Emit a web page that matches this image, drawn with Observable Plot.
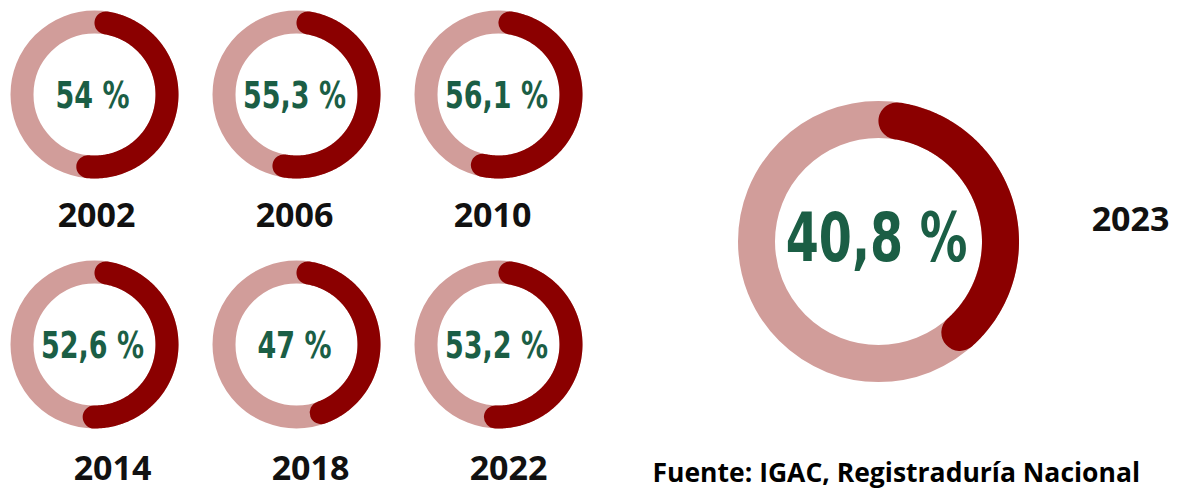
<!DOCTYPE html>
<html>
<head>
<meta charset="utf-8">
<script src="https://cdn.jsdelivr.net/npm/d3@7"></script>
<script src="https://cdn.jsdelivr.net/npm/@observablehq/plot@0.6"></script>
<style>
  html, body { margin: 0; padding: 0; background: #fff; }
  #chart { width: 1188px; height: 489px; }
</style>
</head>
<body>
<div id="chart"></div>
<script>
// ---- data ----
const years = ["2002", "2006", "2010", "2014", "2018", "2022"];
const values = [54, 55.3, 56.1, 52.6, 47, 53.2];
const valueLabels = ["54 %", "55,3 %", "56,1 %", "52,6 %", "47 %", "53,2 %"];
const highlightYear = "2023";
const highlightValue = 40.8;
const highlightLabel = "40,8 %";
const sourceText = "Fuente: IGAC, Registraduría Nacional";

// ---- layout (computed) ----
const W = 1188, H = 489;
const DARK = "#8b0000", PINK = "#d19d9a", GREEN = "#1b5e45";
const small = {r: 72.5, sw: 23};
const big = {r: 122, sw: 37};

const donuts = years.map((y, i) => {
  const col = i % 3, row = Math.floor(i / 3);
  return {
    year: y, value: values[i], label: valueLabels[i],
    cx: 94 + col * 202, cy: row === 0 ? 94 : 344,
    lx: (row === 0 ? 96 : 112) + col * 198, ly: row === 0 ? 216 : 469,
    ...small
  };
});
const bigDonut = {year: highlightYear, value: highlightValue, label: highlightLabel,
  cx: 878, cy: 241, lx: 1130, ly: 220, ...big};

function arcPoints(d) {
  const delta = (d.sw / 2) / d.r;
  const a0 = delta, a1 = 2 * Math.PI * d.value / 100 - delta;
  const n = 200;
  const pts = [];
  for (let k = 0; k <= n; k++) {
    const a = a0 + (a1 - a0) * k / n;
    pts.push({x: d.cx + d.r * Math.sin(a), y: d.cy - d.r * Math.cos(a), year: d.year});
  }
  return pts;
}
const arcsSmall = donuts.flatMap(arcPoints);
const arcsBig = arcPoints(bigDonut);

const pctFont = "'DejaVu Sans', sans-serif";
const yearFont = "'Open Sans', sans-serif";

const chart = Plot.plot({
  width: W, height: H,
  margin: 0,
  x: {domain: [0, W], range: [0, W], axis: null},
  y: {domain: [0, H], range: [0, H], axis: null},
  style: {background: "#fff"},
  marks: [
    Plot.dot(donuts, {x: "cx", y: "cy", r: small.r, stroke: PINK, strokeWidth: small.sw, fill: "none"}),
    Plot.dot([bigDonut], {x: "cx", y: "cy", r: big.r, stroke: PINK, strokeWidth: big.sw, fill: "none"}),
    Plot.line(arcsSmall, {x: "x", y: "y", z: "year", stroke: DARK, strokeWidth: small.sw, strokeLinecap: "round", curve: "linear"}),
    Plot.line(arcsBig, {x: "x", y: "y", stroke: DARK, strokeWidth: big.sw, strokeLinecap: "round", curve: "linear"}),
    Plot.text(donuts, {x: "cx", y: "cy", dx: -2, dy: 2, text: "label", fill: GREEN, fontFamily: pctFont, fontWeight: "bold", fontSize: 37, ariaLabel: () => "pct-small"}),
    Plot.text([bigDonut], {x: "cx", y: "cy", dx: -2, dy: -2, text: "label", fill: GREEN, fontFamily: pctFont, fontWeight: "bold", fontSize: 68, ariaLabel: () => "pct-big"}),
    Plot.text(donuts, {x: "lx", y: "ly", text: "year", fill: "#111", fontFamily: yearFont, fontWeight: "bold", fontSize: 34}),
    Plot.text([bigDonut], {x: "lx", y: "ly", text: "year", fill: "#111", fontFamily: yearFont, fontWeight: "bold", fontSize: 34}),
    Plot.text([sourceText], {x: () => 652, y: () => 473, text: d => d, textAnchor: "start", fill: "#000", fontFamily: yearFont, fontWeight: "bold", fontSize: 26.5})
  ]
});
document.getElementById("chart").appendChild(chart);

// condense the percentage labels horizontally (narrow display face look),
// scaling each label about its own anchor point
function condense(label, k) {
  chart.querySelectorAll(`text[aria-label="${label}"], g[aria-label="${label}"] text`).forEach(t => {
    const tr = t.getAttribute("transform");
    if (tr) {
      t.setAttribute("transform", `${tr} scale(${k},1)`);
    } else {
      const x = +t.getAttribute("x") || 0, y = +t.getAttribute("y") || 0;
      t.setAttribute("transform", `translate(${x},${y}) scale(${k},1) translate(${-x},${-y})`);
    }
  });
}
condense("pct-small", 0.73);
condense("pct-big", 0.7);
</script>
</body>
</html>
